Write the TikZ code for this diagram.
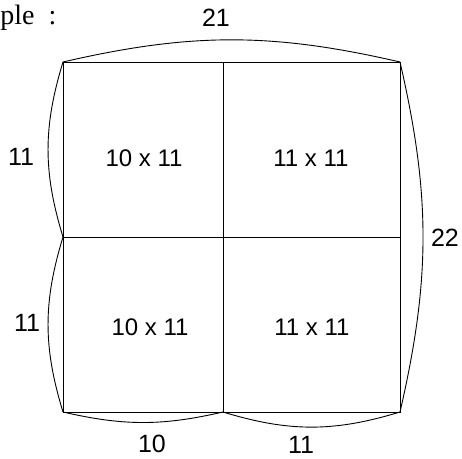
\documentclass[tikz,border=0pt]{standalone}
\usepackage{fontspec}
\setmainfont{Liberation Serif}
\setsansfont{Liberation Sans}
\usetikzlibrary{positioning, calc}

\begin{document}
\begin{tikzpicture}[
  x=0.5pt, y=-0.5pt,
  grid/.style={draw, line width=0.45pt},
  brace/.style={draw, line width=0.45pt},
  dim/.style={font=\sffamily\fontsize{12.5}{14}\selectfont, inner sep=1pt},
  cell/.style={font=\sffamily\fontsize{12}{14}\selectfont, inner sep=1pt}
]
  \useasboundingbox (0,0) rectangle (462,459);
  % corners of the square
  \coordinate (tl) at (63,62);
  \coordinate (tm) at (223,62);
  \coordinate (tr) at (400,62);
  \coordinate (ml) at (63,237);
  \coordinate (mr) at (400,237);
  \coordinate (bl) at (63,412);
  \coordinate (bm) at (223,412);
  \coordinate (br) at (400,412);

  \draw[grid] (tl) rectangle (br);
  \draw[grid] (tm) -- (bm);
  \draw[grid] (ml) -- (mr);

  % dimension arcs
  \draw[brace] (tl) to[bend left=13] (tr);
  \draw[brace] (ml) to[bend left=17] (tl);
  \draw[brace] (bl) to[bend left=17] (ml);
  \draw[brace] (tr) to[bend left=13] (br);
  \draw[brace] (bm) to[bend left=13] (bl);
  \draw[brace] (br) to[bend left=17] (bm);

  \node[font=\fontsize{14}{16}\selectfont, anchor=west, inner sep=0pt] (title) at (0,18) {ple \ :};
  \node[dim] (top) at (216,18) {21};
  \node[dim] (lefta) at (21,157) {11};
  \node[dim] (leftb) at (27,323) {11};
  \node[dim] (right) at (445,238) {22};
  \node[dim] (bota) at (152,444) {10};
  \node[dim] (botb) at (301,445) {11};

  \node[cell] (c11) at (144,158) {10 x 11};
  \node[cell] (c12) at (311,158) {11 x 11};
  \node[cell] (c21) at (150,327) {10 x 11};
  \node[cell] (c22) at (312,327) {11 x 11};
\end{tikzpicture}
\end{document}
